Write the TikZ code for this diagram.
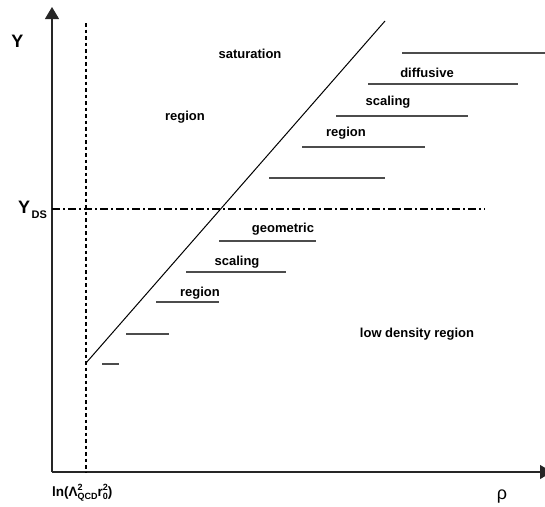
\documentclass[tikz,border=0pt]{standalone}
\usepackage{fontspec}
\setmainfont{Liberation Sans}
\usetikzlibrary{arrows.meta}
\begin{document}
\begin{tikzpicture}[x=1pt,y=-1pt,
  lbl/.style={font=\fontsize{13}{15}\selectfont\bfseries, anchor=base, inner sep=0pt},
  seg/.style={draw=black!70, line width=1.3pt},
  axis/.style={draw=black!85, line width=1.1pt, -{Triangle[length=12pt,width=14pt]}}]
\useasboundingbox (0,0) rectangle (545,506);
% axes
\coordinate (O) at (52,472);
\coordinate (ytop) at (52,7);
\coordinate (xend) at (552,472);
\draw[axis] (O) -- (ytop);
\draw[axis] (O) -- (xend);
% dotted vertical line
\coordinate (dv1) at (86,23);
\coordinate (dv2) at (86,472);
\draw[line width=2pt, dash pattern=on 3.5pt off 3pt] (dv1) -- (dv2);
% dash-dot horizontal line
\coordinate (dh1) at (52,209);
\coordinate (dh2) at (485,209);
\draw[line width=1.5pt, dash pattern=on 8pt off 3pt on 2pt off 3pt] (dh1) -- (dh2);
% diagonal
\coordinate (d1) at (86,363);
\coordinate (d2) at (385,21);
\draw[line width=1pt] (d1) -- (d2);
% horizontal segments
\foreach \n/\xa/\xb/\y in {a/102/119/364, b/126/169/334, c/156/219/302, d/186/286/272, e/219/316/241, f/269/385/178, g/302/425/147, h/336/468/116, i/368/518/84, j/402/545/53}{
  \coordinate (s\n1) at (\xa,\y);
  \coordinate (s\n2) at (\xb,\y);
  \draw[seg] (s\n1) -- (s\n2);
}
% labels
\node[lbl] (sat) at (250,58) {saturation};
\node[lbl] (reg1) at (185,120) {region};
\node[lbl] (dif) at (427,77) {diffusive};
\node[lbl] (sca1) at (388,105) {scaling};
\node[lbl] (reg2) at (346,136) {region};
\node[lbl] (geo) at (283,232) {geometric};
\node[lbl] (sca2) at (237,265) {scaling};
\node[lbl] (reg3) at (200,296) {region};
\node[lbl] (low) at (417,337) {low density region};
\node[font=\fontsize{18}{20}\selectfont\bfseries, anchor=base, inner sep=0pt] (Y) at (17.5,47) {Y};
\node[font=\fontsize{18}{20}\selectfont\bfseries, anchor=base west, inner sep=0pt] (YDS) at (18,213) {Y\hspace{1.5pt}\raisebox{-5pt}{\fontsize{11}{12}\selectfont DS}};
\node[font=\fontsize{13.5}{15}\selectfont\bfseries, anchor=base west, inner sep=0pt] (ln) at (52,496) {ln(Λ\rlap{\raisebox{6pt}{\fontsize{9}{10}\selectfont 2}}\raisebox{-3pt}{\fontsize{9}{10}\selectfont QCD}r\rlap{\raisebox{6pt}{\fontsize{9}{10}\selectfont 2}}\raisebox{-3pt}{\fontsize{9}{10}\selectfont 0})};
\node[font=\fontsize{18}{20}\selectfont, anchor=base, inner sep=0pt] (rho) at (502,499) {ρ};
\end{tikzpicture}
\end{document}
